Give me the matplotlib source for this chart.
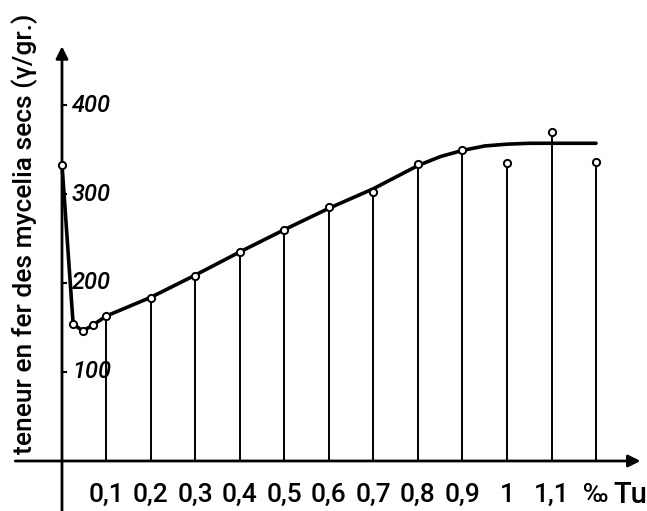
import matplotlib.pyplot as plt

# concentration de Tu (‰) et teneur en fer mesurée (γ/gr.)
conc = [0, 0.025, 0.047, 0.07, 0.1, 0.2, 0.3, 0.4, 0.5, 0.6, 0.7, 0.8, 0.9, 1.0, 1.1, 1.2]
fer = [333, 154, 146, 153, 163, 183, 208, 235, 260, 285, 302, 334, 349, 335, 370, 336]

# courbe tracée à la main à travers les mesures
curve_x = [0, 0.025, 0.047, 0.07, 0.1, 0.2, 0.3, 0.4, 0.5, 0.6, 0.65, 0.7, 0.75, 0.8, 0.85,
           0.9, 0.95, 1.0, 1.05, 1.1, 1.2]
curve_y = [333, 154, 146, 153, 163, 184, 209, 235, 260, 284, 295, 306, 319, 332, 342,
           349, 354, 356, 357, 357, 357]

# traits verticaux pour les concentrations principales
stem_x = [0.1, 0.2, 0.3, 0.4, 0.5, 0.6, 0.7, 0.8, 0.9, 1.0, 1.1, 1.2]
stem_y = [163, 183, 208, 235, 260, 285, 302, 334, 349, 335, 370, 336]

x_ticks = [0.1, 0.2, 0.3, 0.4, 0.5, 0.6, 0.7, 0.8, 0.9, 1.0, 1.1]
x_labels = ['0,1', '0,2', '0,3', '0,4', '0,5', '0,6', '0,7', '0,8', '0,9', '1', '1,1']
y_ticks = [100, 200, 300, 400]

font = 'Roboto'

fig = plt.figure(figsize=(6.47, 5.11), dpi=100)
ax = fig.add_axes([0, 0, 1, 1])
ax.set_xlim(-0.1393, 1.3146)
ax.set_ylim(-56.2, 518.0)
ax.axis('off')

# axes dessinés avec flèches
ax.annotate('', xy=(1.30, 0), xytext=(-0.105, 0),
            arrowprops=dict(arrowstyle='-|>', lw=2.0, color='black',
                            mutation_scale=18, shrinkA=0, shrinkB=0))
ax.annotate('', xy=(0, 466), xytext=(0, -56),
            arrowprops=dict(arrowstyle='-|>', lw=2.0, color='black',
                            mutation_scale=18, shrinkA=0, shrinkB=0))

for x, y in zip(stem_x, stem_y):
    ax.plot([x, x], [0, y], color='black', lw=1.4, zorder=2)

ax.plot(curve_x, curve_y, color='black', lw=2.6, zorder=3,
        solid_capstyle='round', solid_joinstyle='round')
ax.plot(conc, fer, 'o', ms=5.2, mfc='white', mec='black', mew=1.4, zorder=4)

for v in y_ticks:
    ax.plot([0, 0.008], [v, v], color='black', lw=1.5)
    ax.text(0.022, v, str(v), fontsize=17, style='italic', weight='medium',
            family=font, ha='left', va='center')

for x, lab in zip(x_ticks, x_labels):
    ax.text(x, -38, lab, fontsize=19, weight='medium', family=font,
            ha='center', va='center')
ax.text(1.2, -38, '‰', fontsize=19, weight='medium', family=font,
        ha='center', va='center')
ax.text(1.278, -38, 'Tu', fontsize=21, weight='medium', family=font,
        ha='center', va='center')

ax.text(-0.083, 255, 'teneur en fer des mycelia secs (γ/gr.)', rotation=90,
        fontsize=19, weight='medium', family=font, ha='center', va='center')

fig.savefig('out.png', dpi=100)
